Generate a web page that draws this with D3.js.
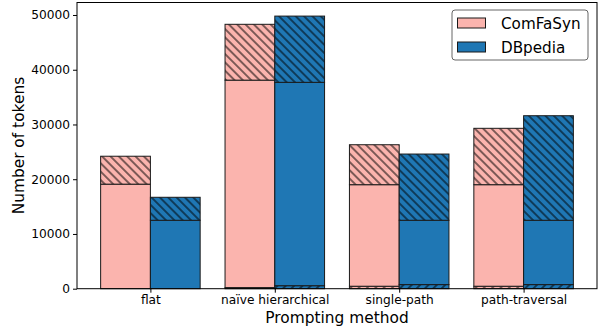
<!DOCTYPE html>
<html>
<head>
<meta charset="utf-8">
<script src="https://cdn.jsdelivr.net/npm/d3@7"></script>
<style>
  html, body { margin: 0; padding: 0; background: #fff; }
  svg { display: block; font-family: "DejaVu Sans", sans-serif; }
</style>
</head>
<body>
<svg id="chart" width="600" height="330"></svg>
<script>
// ---- data ----
const categories = ["flat", "naïve hierarchical", "single-path", "path-traversal"];
const seriesNames = ["ComFaSyn", "DBpedia"];
// segment values (stacked bottom -> top)
const comfaBottom = [0, 200, 450, 450];        // "/" hatched
const comfaMiddle = [19100, 37900, 18550, 18550]; // solid
const comfaTop    = [5100, 10200, 7300, 10300];   // "\" hatched
const dbpBottom = [0, 550, 750, 750];
const dbpMiddle = [12500, 37150, 11750, 11750];
const dbpTop    = [4200, 12100, 12100, 19100];
const yTicks = [0, 10000, 20000, 30000, 40000, 50000];

const colors = ["#FBB4AE", "#1F77B4"];
const edge = "#1a1a1a";

const svg = d3.select("#chart");
const mLeft = 77, mRight = 597, mTop = 2.5, mBottom = 288.7;

const x = d3.scaleLinear().domain([-0.59, 3.59]).range([mLeft, mRight]);
const y = d3.scaleLinear().domain([0, 52283]).range([mBottom, mTop]);
const barW = 0.4;

// hatch patterns
const defs = svg.append("defs");
function hatch(id, angle) {
  const sp = 5.9;
  const p = defs.append("pattern").attr("id", id)
    .attr("patternUnits", "userSpaceOnUse")
    .attr("width", sp).attr("height", sp)
    .attr("patternTransform", `rotate(${angle})`);
  p.append("line").attr("x1", sp / 2).attr("y1", -1).attr("x2", sp / 2).attr("y2", sp + 1)
    .attr("stroke", "#000").attr("stroke-width", 1);
}
hatch("back", -45);  // "\" lines
hatch("fwd", 45);    // "/" lines

const series = [
  { name: seriesNames[0], color: colors[0], off: -0.2, segs: [comfaBottom, comfaMiddle, comfaTop] },
  { name: seriesNames[1], color: colors[1], off: 0.2, segs: [dbpBottom, dbpMiddle, dbpTop] }
];
const hatches = ["fwd", null, "back"];

const g = svg.append("g");
series.forEach(s => {
  categories.forEach((c, i) => {
    let base = 0;
    s.segs.forEach((arr, k) => {
      const v = arr[i];
      const y0 = base, y1 = base + v;
      base = y1;
      if (v <= 0) return;
      const rx = x(i + s.off - barW / 2), rw = x(i + s.off + barW / 2) - rx;
      const ry = y(y1), rh = y(y0) - y(y1);
      g.append("rect").attr("x", rx).attr("y", ry).attr("width", rw).attr("height", rh)
        .attr("fill", s.color);
      if (hatches[k]) {
        g.append("rect").attr("x", rx).attr("y", ry).attr("width", rw).attr("height", rh)
          .attr("fill", `url(#${hatches[k]})`);
      }
      g.append("rect").attr("x", rx).attr("y", ry).attr("width", rw).attr("height", rh)
        .attr("fill", "none").attr("stroke", edge).attr("stroke-width", 1);
    });
  });
});

// axes
const yAxis = d3.axisLeft(y).tickValues(yTicks).tickSize(4).tickPadding(3).tickFormat(d3.format("d"));
const ya = svg.append("g").attr("transform", `translate(${mLeft},0)`).call(yAxis);
ya.select(".domain").remove();
ya.selectAll("text").attr("font-size", 12.2).attr("fill", "#000").attr("font-family", "DejaVu Sans");
ya.selectAll("line").attr("stroke", "#000");

const xAxis = d3.axisBottom(x).tickValues(d3.range(categories.length)).tickSize(4).tickPadding(3)
  .tickFormat(i => categories[i]);
const xa = svg.append("g").attr("transform", `translate(0,${mBottom})`).call(xAxis);
xa.select(".domain").remove();
xa.selectAll("text").attr("font-size", 12.2).attr("fill", "#000").attr("font-family", "DejaVu Sans");
xa.selectAll("line").attr("stroke", "#000");

// frame
svg.append("rect").attr("x", mLeft).attr("y", mTop).attr("width", mRight - mLeft).attr("height", mBottom - mTop)
  .attr("fill", "none").attr("stroke", "#000").attr("stroke-width", 1);

// axis labels
svg.append("text").attr("x", (mLeft + mRight) / 2).attr("y", 323.3).attr("text-anchor", "middle")
  .attr("font-size", 15.4).text("Prompting method");
svg.append("text").attr("transform", `translate(24,${(mTop + mBottom) / 2}) rotate(-90)`)
  .attr("text-anchor", "middle").attr("font-size", 15.4).text("Number of tokens");

// legend
const lg = svg.append("g");
lg.append("rect").attr("x", 452).attr("y", 10).attr("width", 136).attr("height", 50).attr("rx", 3)
  .attr("fill", "#fff").attr("fill-opacity", 0.8).attr("stroke", "#666").attr("stroke-width", 1);
series.forEach((s, j) => {
  const cy = 23 + j * 24;
  lg.append("rect").attr("x", 457.5).attr("y", cy - 5).attr("width", 28).attr("height", 10)
    .attr("fill", s.color).attr("stroke", edge).attr("stroke-width", 1);
  lg.append("text").attr("x", 501).attr("y", cy + 5.5).attr("font-size", 15.2).text(s.name);
});
</script>
</body>
</html>
